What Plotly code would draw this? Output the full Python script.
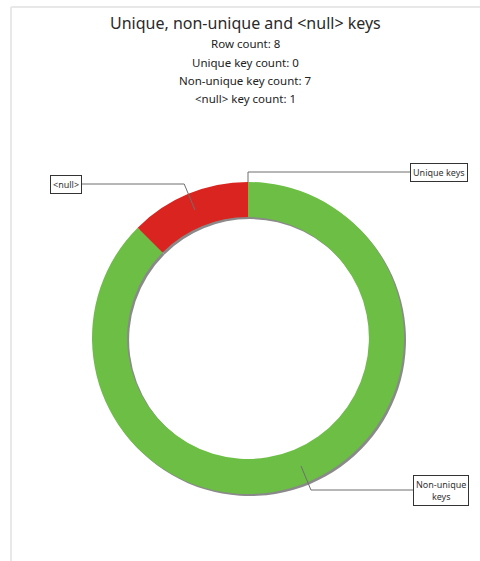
import math
import plotly.graph_objects as go

# ---- data ----
labels = ["Unique keys", "Non-unique keys", "<null>"]
values = [0, 7, 1]
colors = ["#6CBF44", "#6CBF44", "#D9241F"]
box_texts = ["Unique keys", "Non-unique<br>keys", "&lt;null&gt;"]
title_text = "Unique, non-unique and &lt;null&gt; keys"
sub_lines = ["Row count: 8", "Unique key count: 0", "Non-unique key count: 7", "&lt;null&gt; key count: 1"]

W, H = 480, 561
cx, cy, R = 248, 338, 156
HOLE = 0.775
SH = 2  # shadow offset px

def px(x):
    return x / W

def py(y):
    return 1 - y / H

dom_x = [px(cx - R), px(cx + R)]
dom_y = [py(cy + R), py(cy - R)]
sdom_x = [px(cx - R + SH), px(cx + R + SH)]
sdom_y = [py(cy + R + SH), py(cy - R + SH)]

fig = go.Figure()
# shadow ring
fig.add_trace(go.Pie(
    labels=labels, values=values, sort=False, direction="clockwise",
    hole=HOLE, domain=dict(x=sdom_x, y=sdom_y),
    marker=dict(colors=["#8a8a8a"] * 3, line=dict(width=0)),
    textinfo="none", hoverinfo="skip", showlegend=False,
))
fig.add_trace(go.Pie(
    labels=labels, values=values, sort=False, direction="clockwise",
    hole=HOLE, domain=dict(x=dom_x, y=dom_y),
    marker=dict(colors=colors, line=dict(width=0)),
    textinfo="none", hoverinfo="skip", showlegend=False,
))

# label boxes (layout positions in px): (x edge, y center, anchor)
box_pos = {
    "Unique keys": (410, 172, "left"),
    "Non-unique keys": (413, 490, "left"),
    "<null>": (82, 184, "right"),
}

total = sum(values)
cum = 0
shapes = []
annotations = []
line_col = "#6f6f6f"
for lab, val, txt in zip(labels, values, box_texts):
    a0 = cum / total * 360
    cum += val
    a1 = cum / total * 360
    mid = math.radians((a0 + a1) / 2)
    r_anchor = R * (1 + HOLE) / 2 if val > 0 else R
    ax = cx + r_anchor * math.sin(mid)
    ay = cy - r_anchor * math.cos(mid)
    bx, by, anc = box_pos[lab]
    dx, dy = ax - cx, ay - cy
    t = (by - cy) / dy if dy != 0 else 1
    ex = cx + dx * t
    ey = by
    shapes.append(dict(type="line", xref="paper", yref="paper",
                       x0=px(ax), y0=py(ay), x1=px(ex), y1=py(ey),
                       line=dict(color=line_col, width=1)))
    shapes.append(dict(type="line", xref="paper", yref="paper",
                       x0=px(ex), y0=py(ey), x1=px(bx), y1=py(by),
                       line=dict(color=line_col, width=1)))
    annotations.append(dict(
        text=txt, x=px(bx), y=py(by), xref="paper", yref="paper",
        xanchor=anc, yanchor="middle", showarrow=False,
        font=dict(family="Noto Sans", size=9, color="#333333"),
        bgcolor="white", bordercolor="#333333", borderwidth=1, borderpad=2,
        align="center",
    ))

# frame
shapes.append(dict(type="line", xref="paper", yref="paper",
                   x0=px(11), y0=py(7), x1=1, y1=py(7),
                   line=dict(color="#e8e8e8", width=2)))
shapes.append(dict(type="line", xref="paper", yref="paper",
                   x0=px(11), y0=py(7), x1=px(11), y1=0,
                   line=dict(color="#e8e8e8", width=2)))

annotations.append(dict(text=title_text, x=px(246), y=py(23), xref="paper", yref="paper",
                        xanchor="center", yanchor="middle", showarrow=False,
                        font=dict(family="Noto Sans", size=16, color="#2a2a2a")))
for i, s in enumerate(sub_lines):
    annotations.append(dict(text=s, x=px(246), y=py(44 + i * 18.3), xref="paper", yref="paper",
                            xanchor="center", yanchor="middle", showarrow=False,
                            font=dict(family="Noto Sans", size=11.5, color="#222222")))

fig.update_layout(
    width=W, height=H, autosize=False,
    margin=dict(l=0, r=0, t=0, b=0),
    paper_bgcolor="white", plot_bgcolor="white",
    shapes=shapes, annotations=annotations, showlegend=False,
)
fig.write_html("out.html", config={"displayModeBar": False},
               post_script="document.body.style.margin='0';document.body.style.overflow='hidden';")
